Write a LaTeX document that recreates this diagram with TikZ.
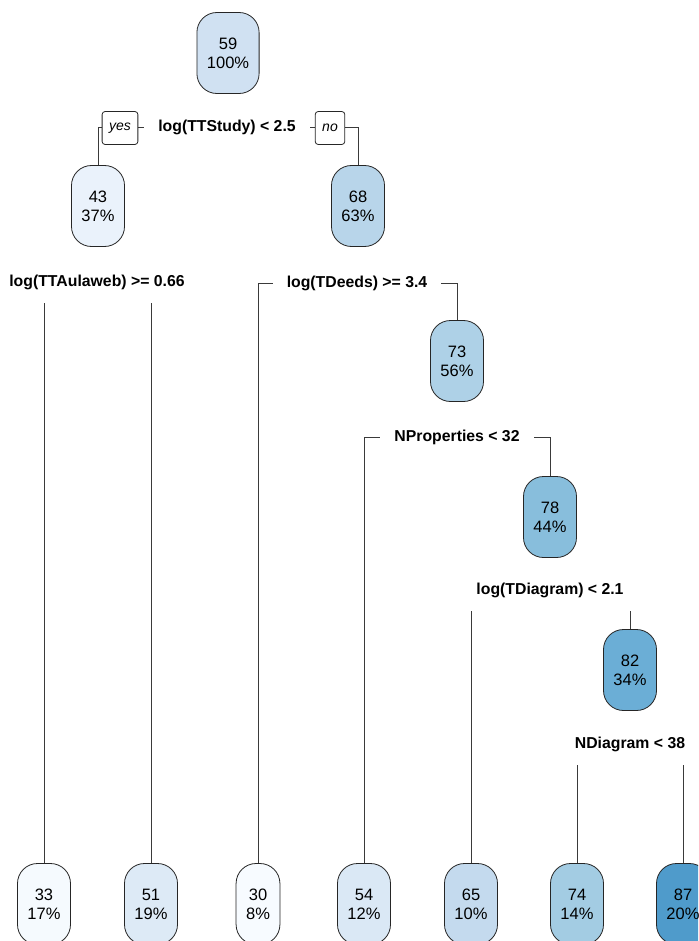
\documentclass[tikz,border=0pt]{standalone}
\usepackage{fontspec}
\setmainfont{Liberation Sans}
\usetikzlibrary{backgrounds}

\definecolor{c30}{HTML}{F7FBFF}
\definecolor{c33}{HTML}{F5FAFE}
\definecolor{c43}{HTML}{EAF2FB}
\definecolor{c51}{HTML}{DDEAF6}
\definecolor{c54}{HTML}{DAE8F5}
\definecolor{c59}{HTML}{D0E1F2}
\definecolor{c65}{HTML}{C4DAEE}
\definecolor{c68}{HTML}{B8D5EA}
\definecolor{c73}{HTML}{AED1E7}
\definecolor{c74}{HTML}{A3CCE3}
\definecolor{c78}{HTML}{88BEDC}
\definecolor{c82}{HTML}{6BAED6}
\definecolor{c87}{HTML}{4F9BCB}
\definecolor{wire}{HTML}{3A3A3A}

\tikzset{
  box/.style={draw=black!85, line width=0.8pt, rounded corners=20pt,
    minimum height=81pt, inner xsep=10pt, align=center,
    font=\fontsize{16.5}{19}\selectfont},
  split/.style={fill=white, inner xsep=14pt, minimum height=42pt,
    font=\bfseries\fontsize{15.8}{18}\selectfont},
  answer/.style={draw=black!85, fill=white, line width=0.8pt, rounded corners=3pt,
    inner xsep=7pt, minimum height=33pt, font=\itshape\fontsize{14}{16}\selectfont}
}

\begin{document}
\begin{tikzpicture}[x=1pt, y=-1pt]
  \useasboundingbox (0,0) rectangle (698,941);
  \clip (0,0) rectangle (698,941);
  % inner nodes
  \node[box, fill=c59] (root) at (228,53) {59\\100\%};
  \node[box, fill=c43] (n43) at (98,206) {43\\37\%};
  \node[box, fill=c68] (n68) at (358,206) {68\\63\%};
  \node[box, fill=c73] (n73) at (457,361) {73\\56\%};
  \node[box, fill=c78] (n78) at (550,517) {78\\44\%};
  \node[box, fill=c82] (n82) at (630,670) {82\\34\%};
  % leaves
  \node[box, fill=c33] (n33) at (44,904) {33\\17\%};
  \node[box, fill=c51] (n51) at (151,904) {51\\19\%};
  \node[box, fill=c30] (n30) at (258,904) {30\\8\%};
  \node[box, fill=c54] (n54) at (364,904) {54\\12\%};
  \node[box, fill=c65] (n65) at (471,904) {65\\10\%};
  \node[box, fill=c74] (n74) at (577,904) {74\\14\%};
  \node[box, fill=c87] (n87) at (683,904) {87\\20\%};
  % split labels
  \node[split] (s1) at (227,127) {log(TTStudy) < 2.5};
  \node[split] (s2) at (97,282) {log(TTAulaweb) >= 0.66};
  \node[split] (s3) at (357,283) {log(TDeeds) >= 3.4};
  \node[split] (s4) at (457,437) {NProperties < 32};
  \node[split] (s5) at (550,590) {log(TDiagram) < 2.1};
  \node[split] (s6) at (630,744) {NDiagram < 38};
  \node[answer] (yes) at (120,128) {yes};
  \node[answer] (no) at (330,128) {no};
  % branches
  \begin{pgfonlayer}{background}
    \begin{scope}[draw=wire, line width=0.8pt]
      \draw (n43.north) |- (s1.center) -| (n68.north);
      \draw (n33.north) |- (s2.center) -| (n51.north);
      \draw (n30.north) |- (s3.center) -| (n73.north);
      \draw (n54.north) |- (s4.center) -| (n78.north);
      \draw (n65.north) |- (s5.center) -| (n82.north);
      \draw (n74.north) |- (s6.center) -| (n87.north);
    \end{scope}
  \end{pgfonlayer}
\end{tikzpicture}
\end{document}
